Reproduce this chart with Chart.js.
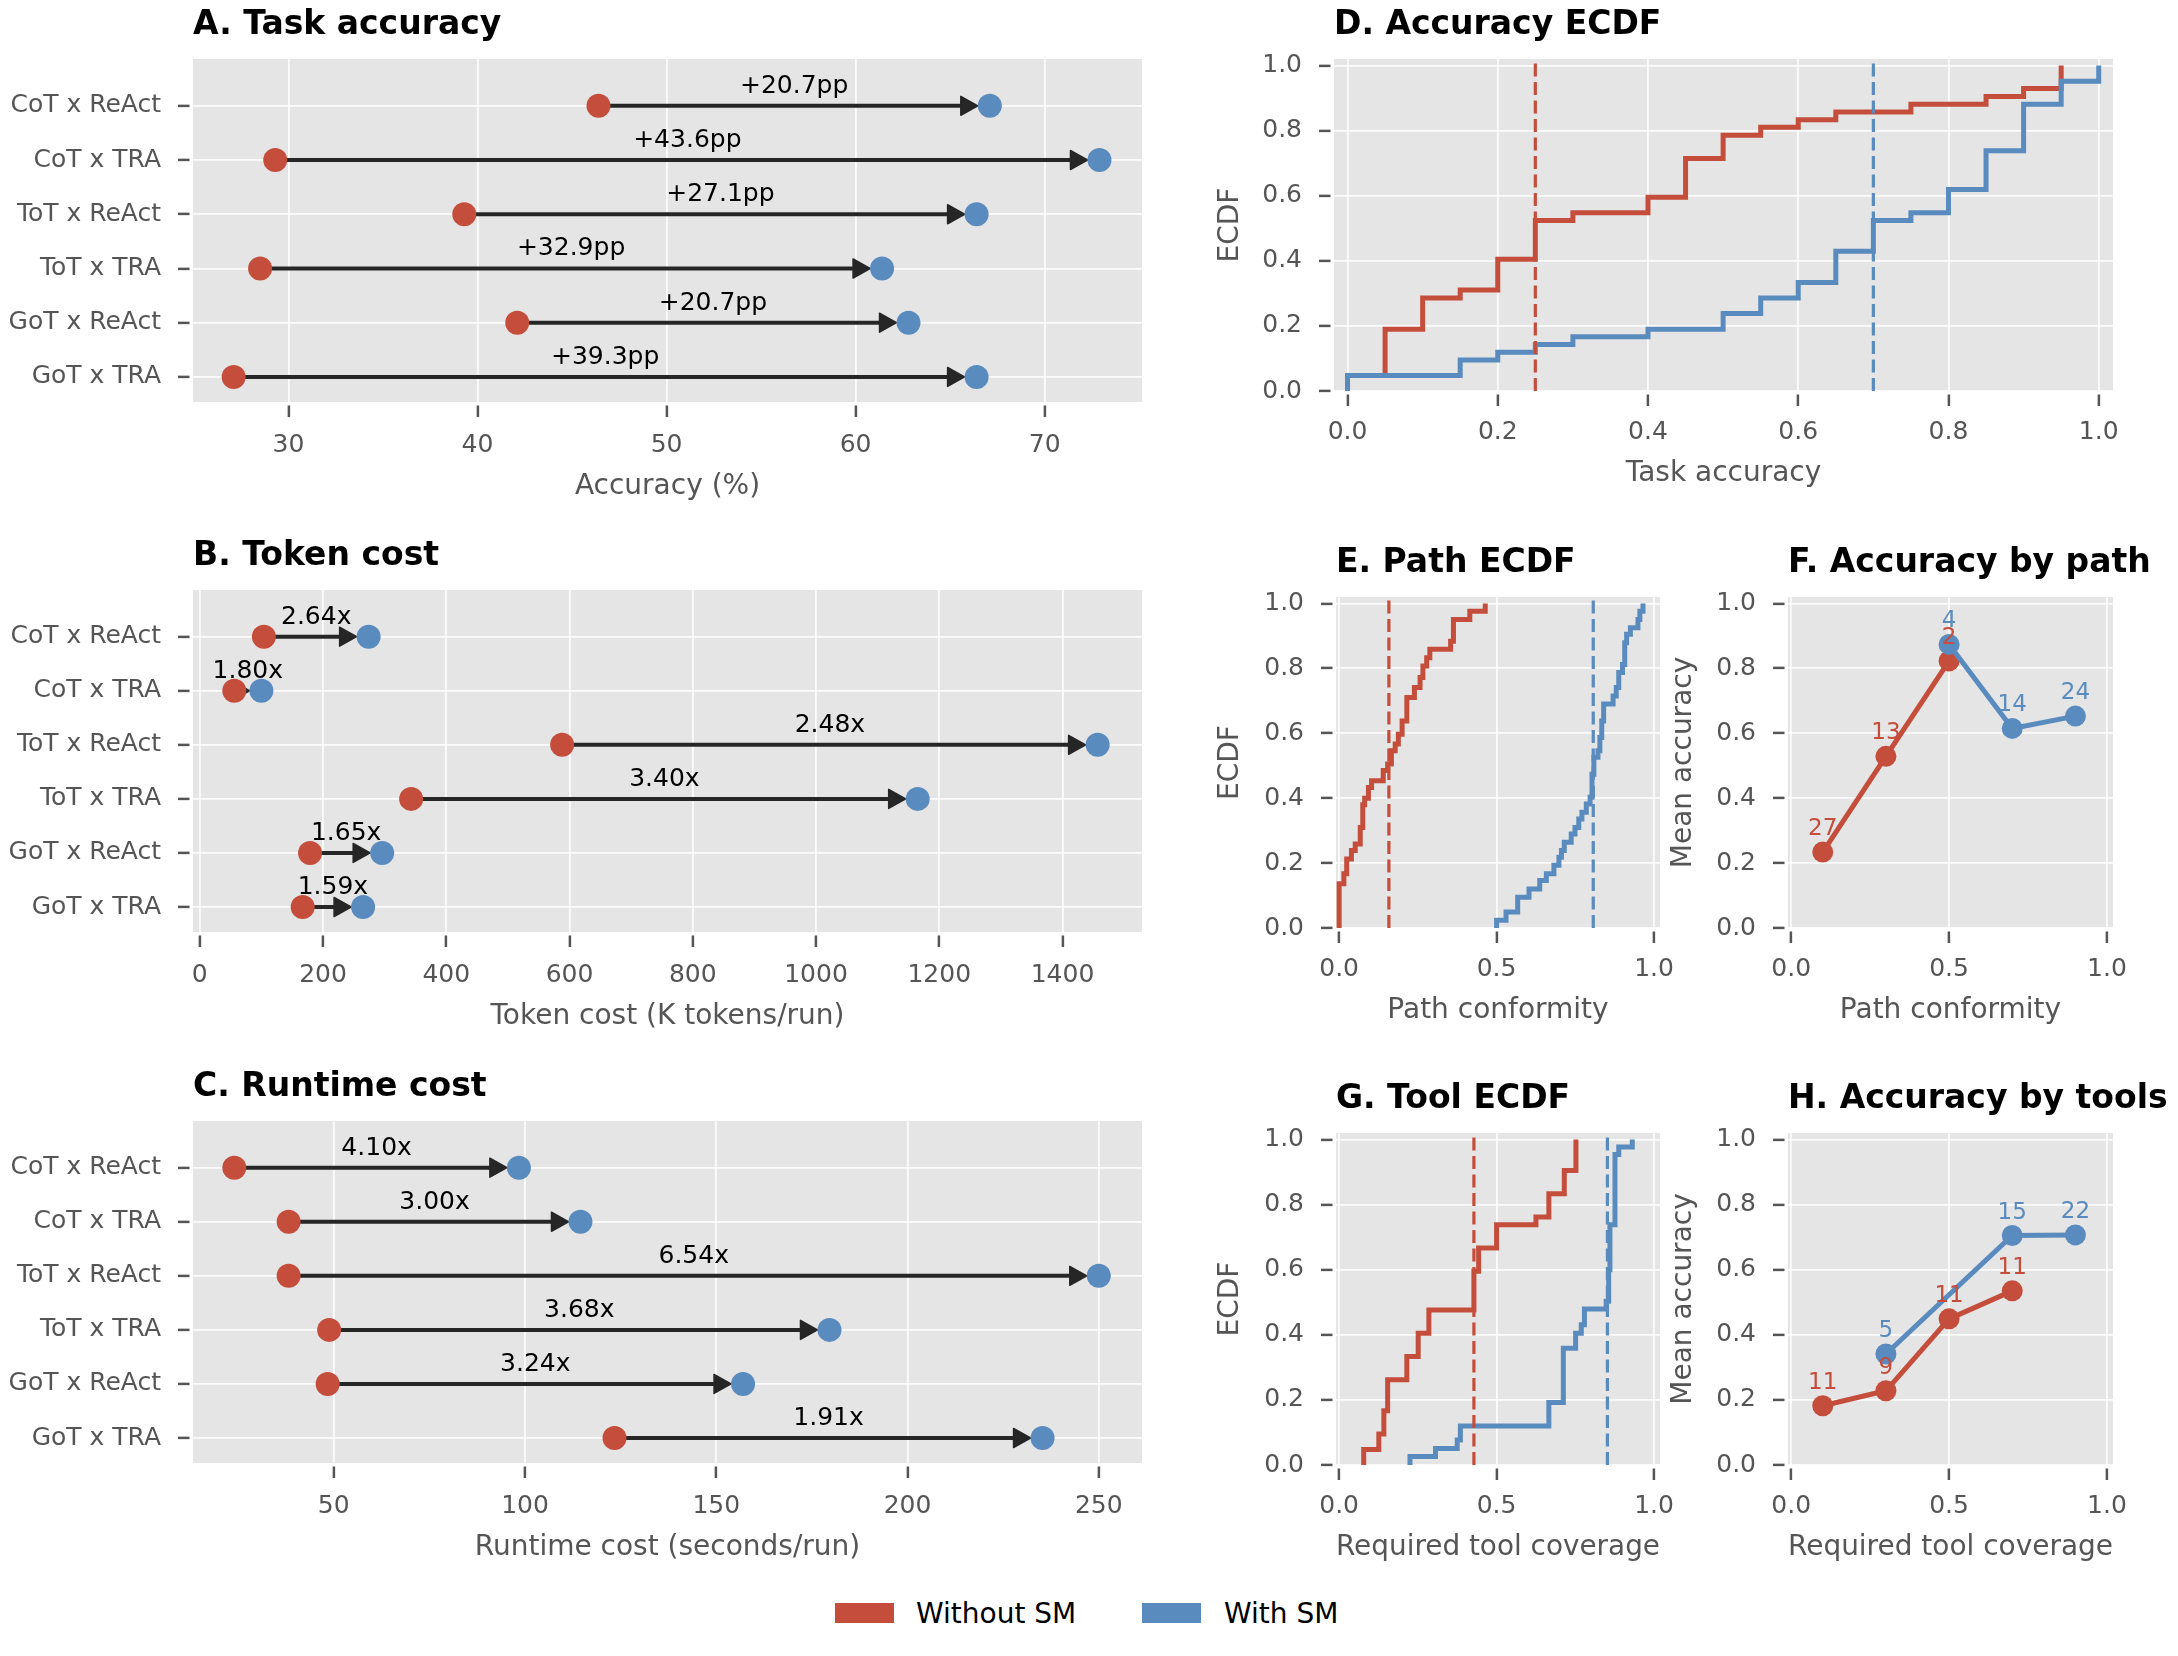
<!DOCTYPE html>
<html>
<head>
<meta charset="utf-8">
<script src="https://cdn.jsdelivr.net/npm/chart.js"></script>
<style>
html, body { margin: 0; padding: 0; background: #ffffff; }
#page { position: relative; width: 2178px; height: 1656px; overflow: hidden; background: #ffffff; font-family: "DejaVu Sans", sans-serif; }
#page canvas { position: absolute; }
.sw { position: absolute; width: 59px; height: 20px; }
.lt { position: absolute; font-size: 28px; line-height: normal; color: #000; white-space: nowrap; }
</style>
</head>
<body>
<div id="page">
  <div class="sw" id="swRed" style="left:835px; top:1603px;"></div>
  <div class="lt" style="left:916px; top:1597px;">Without SM</div>
  <div class="sw" id="swBlue" style="left:1142px; top:1603px;"></div>
  <div class="lt" style="left:1224px; top:1597px;">With SM</div>
</div>
<script>
// ---------------- DATA ----------------
const categories = ['CoT x ReAct', 'CoT x TRA', 'ToT x ReAct', 'ToT x TRA', 'GoT x ReAct', 'GoT x TRA'];
const seriesNames = ['Without SM', 'With SM'];

// A. Task accuracy (%)
const accWithout = [46.4, 29.3, 39.3, 28.5, 42.1, 27.1];
const accWith    = [67.1, 72.9, 66.4, 61.4, 62.8, 66.4];
const accLabels  = ['+20.7pp', '+43.6pp', '+27.1pp', '+32.9pp', '+20.7pp', '+39.3pp'];
const accTicks   = [30, 40, 50, 60, 70];

// B. Token cost (K tokens/run)
const tokWithout = [104, 56, 588, 343, 179, 167];
const tokWith    = [274, 100, 1457, 1165, 296, 265];
const tokLabels  = ['2.64x', '1.80x', '2.48x', '3.40x', '1.65x', '1.59x'];
const tokTicks   = [0, 200, 400, 600, 800, 1000, 1200, 1400];

// C. Runtime cost (seconds/run)
const rtWithout = [24.0, 38.2, 38.2, 48.8, 48.4, 123.4];
const rtWith    = [98.4, 114.5, 250.0, 179.6, 157.0, 235.3];
const rtLabels  = ['4.10x', '3.00x', '6.54x', '3.68x', '3.24x', '1.91x'];
const rtTicks   = [50, 100, 150, 200, 250];

// D. Accuracy ECDF (step positions and ECDF levels)
const dRedX  = [0, 0.05, 0.1, 0.15, 0.2, 0.25, 0.3, 0.4, 0.45, 0.5, 0.55, 0.6, 0.65, 0.75, 0.85, 0.9, 0.95];
const dRedY  = [0.048, 0.190, 0.286, 0.310, 0.405, 0.524, 0.548, 0.595, 0.714, 0.786, 0.810, 0.833, 0.857, 0.881, 0.905, 0.929, 1.0];
const dBlueX = [0, 0.15, 0.2, 0.25, 0.3, 0.4, 0.5, 0.55, 0.6, 0.65, 0.7, 0.75, 0.8, 0.85, 0.9, 0.95, 1.0];
const dBlueY = [0.048, 0.095, 0.119, 0.143, 0.167, 0.190, 0.238, 0.286, 0.333, 0.429, 0.524, 0.548, 0.619, 0.738, 0.881, 0.952, 1.0];
const dMedians = [0.25, 0.70];

// E. Path ECDF
const eRedX  = [0.0, 0.015, 0.024, 0.039, 0.051, 0.067, 0.075, 0.081, 0.093, 0.103, 0.140, 0.154, 0.166, 0.178, 0.188, 0.200, 0.215, 0.239, 0.257, 0.266, 0.278, 0.288, 0.354, 0.363, 0.415, 0.464];
const eRedY  = [0.136, 0.167, 0.213, 0.239, 0.259, 0.310, 0.380, 0.400, 0.433, 0.454, 0.485, 0.505, 0.546, 0.567, 0.597, 0.638, 0.710, 0.741, 0.772, 0.807, 0.833, 0.859, 0.884, 0.951, 0.976, 1.0];
const eBlueX = [0.500, 0.530, 0.567, 0.603, 0.637, 0.658, 0.682, 0.698, 0.706, 0.715, 0.737, 0.749, 0.761, 0.771, 0.785, 0.797, 0.803, 0.809, 0.822, 0.828, 0.834, 0.840, 0.870, 0.880, 0.888, 0.900, 0.907, 0.913, 0.925, 0.949, 0.955, 0.965];
const eBlueY = [0.024, 0.049, 0.095, 0.120, 0.146, 0.167, 0.193, 0.218, 0.239, 0.264, 0.290, 0.310, 0.336, 0.357, 0.382, 0.403, 0.474, 0.526, 0.546, 0.587, 0.638, 0.690, 0.715, 0.741, 0.787, 0.812, 0.879, 0.905, 0.925, 0.951, 0.976, 1.0];
const eMedians = [0.158, 0.807];

// G. Tool ECDF
const gRedX  = [0.078, 0.126, 0.142, 0.154, 0.215, 0.251, 0.285, 0.428, 0.443, 0.500, 0.625, 0.666, 0.715, 0.752];
const gRedY  = [0.048, 0.095, 0.167, 0.262, 0.333, 0.405, 0.476, 0.595, 0.667, 0.738, 0.762, 0.833, 0.905, 1.0];
const gBlueX = [0.225, 0.306, 0.375, 0.385, 0.666, 0.712, 0.751, 0.769, 0.779, 0.848, 0.856, 0.860, 0.876, 0.888, 0.931];
const gBlueY = [0.026, 0.051, 0.077, 0.120, 0.192, 0.359, 0.405, 0.431, 0.479, 0.503, 0.600, 0.738, 0.954, 0.977, 1.0];
const gMedians = [0.428, 0.852];

// F. Accuracy by path
const bins = [0.1, 0.3, 0.5, 0.7, 0.9];
const pathAccWithout = [0.234, 0.529, 0.823, null, null];
const pathAccWith    = [null, null, 0.874, 0.615, 0.653];
const pathNWithout   = [27, 13, 2, null, null];
const pathNWith      = [null, null, 4, 14, 24];

// H. Accuracy by tools
const toolAccWithout = [0.182, 0.228, 0.449, 0.535, null];
const toolAccWith    = [null, 0.341, null, 0.705, 0.707];
const toolNWithout   = [11, 9, 11, 11, null];
const toolNWith      = [null, 5, null, 15, 22];

const unitTicks = [0, 0.2, 0.4, 0.6, 0.8, 1.0];
const halfTicks = [0, 0.5, 1.0];

// ---------------- STYLE ----------------
const RED = '#C44E3B', BLUE = '#5A8BBF', INK = '#262626', TICK = '#555555';
const BG = '#E5E5E5', GRID = 'rgba(255,255,255,0.85)';
const FAM = '"DejaVu Sans", sans-serif';
document.getElementById('swRed').style.background = RED;
document.getElementById('swBlue').style.background = BLUE;

Chart.defaults.font.family = FAM;
Chart.defaults.animation = false;
Chart.defaults.responsive = false;
Chart.defaults.events = [];
Chart.defaults.plugins.legend.display = false;
Chart.defaults.plugins.tooltip.enabled = false;

const page = document.getElementById('page');

function panelPlugin(title) {
  return {
    id: 'panel',
    beforeDraw(chart) {
      const {ctx, chartArea: a} = chart;
      ctx.save();
      ctx.fillStyle = BG;
      ctx.fillRect(a.left, a.top, a.right - a.left, a.bottom - a.top);
      ctx.restore();
    },
    afterDraw(chart) {
      const {ctx, chartArea: a} = chart;
      ctx.save();
      ctx.font = 'bold 33px ' + FAM;
      ctx.fillStyle = '#000';
      ctx.textAlign = 'left';
      ctx.textBaseline = 'alphabetic';
      ctx.fillText(title, a.left, a.top - 25);
      ctx.restore();
    }
  };
}

function arrowPlugin(from, to, labels) {
  return {
    id: 'arrows',
    beforeDatasetsDraw(chart) {
      const {ctx} = chart, xs = chart.scales.x, ys = chart.scales.y;
      ctx.save();
      ctx.strokeStyle = INK; ctx.fillStyle = INK; ctx.lineJoin = 'round';
      from.forEach((v, i) => {
        const x0 = xs.getPixelForValue(v), x1 = xs.getPixelForValue(to[i]), py = ys.getPixelForValue(i);
        const tip = x1 - 12, base = tip - 17;
        if (base > x0) {
          ctx.lineWidth = 4;
          ctx.beginPath(); ctx.moveTo(x0, py); ctx.lineTo(base + 1, py); ctx.stroke();
        }
        ctx.lineWidth = 1.5;
        ctx.beginPath(); ctx.moveTo(tip, py); ctx.lineTo(base, py - 9.5); ctx.lineTo(base, py + 9.5); ctx.closePath();
        ctx.fill(); ctx.stroke();
      });
      ctx.restore();
    },
    afterDatasetsDraw(chart) {
      const {ctx} = chart, xs = chart.scales.x, ys = chart.scales.y;
      ctx.save();
      ctx.font = '25px ' + FAM; ctx.fillStyle = '#000';
      ctx.textAlign = 'center'; ctx.textBaseline = 'alphabetic';
      from.forEach((v, i) => {
        const xm = (xs.getPixelForValue(v) + xs.getPixelForValue(to[i])) / 2;
        ctx.fillText(labels[i], xm, ys.getPixelForValue(i) - 13);
      });
      ctx.restore();
    }
  };
}

const countPlugin = {
  id: 'counts',
  afterDatasetsDraw(chart) {
    const {ctx} = chart, xs = chart.scales.x, ys = chart.scales.y;
    ctx.save();
    ctx.font = '23px ' + FAM; ctx.textAlign = 'center'; ctx.textBaseline = 'alphabetic';
    chart.data.datasets.forEach(ds => {
      if (!ds.counts) return;
      ctx.fillStyle = ds.borderColor;
      ds.data.forEach((p, j) => ctx.fillText(String(ds.counts[j]), xs.getPixelForValue(p.x), ys.getPixelForValue(p.y) - 17));
    });
    ctx.restore();
  }
};

function xAxis(c) {
  return {
    type: 'linear', position: 'bottom', min: c.min, max: c.max,
    afterBuildTicks: s => { s.ticks = c.ticks.map(v => ({value: v})); },
    afterFit: s => { s.height = c.hx; },
    grid: {color: GRID, lineWidth: 1.8, drawTicks: true, tickLength: 15, tickColor: TICK, tickWidth: 2.5, tickBorderDash: [0, 3.5, 11.5, 50]},
    border: {display: false},
    ticks: {color: TICK, font: {size: 25, lineHeight: 1.2}, padding: c.pad, autoSkip: false, maxRotation: 0, callback: c.fmt},
    title: {display: true, text: c.title, color: TICK, font: {size: 28, lineHeight: 1.2}, padding: 0}
  };
}
function yAxis(c) {
  return {
    type: 'linear', position: 'left', min: c.min, max: c.max, reverse: !!c.reverse,
    afterBuildTicks: s => { s.ticks = c.ticks.map(v => ({value: v})); },
    afterFit: s => { s.width = c.wy; },
    grid: {color: GRID, lineWidth: 1.8, drawTicks: true, tickLength: 15, tickColor: TICK, tickWidth: 2.5, tickBorderDash: [11.5, 50]},
    border: {display: false},
    ticks: {color: TICK, font: {size: 25, lineHeight: 1.2}, padding: 17, autoSkip: false, callback: c.fmt},
    title: c.title ? {display: true, text: c.title, color: TICK, font: {size: 28, lineHeight: 1.2}, padding: 0} : {display: false}
  };
}

function makeChart(box, cfg) {
  const padT = 60, padR = 65;
  const c = document.createElement('canvas');
  const w = box.wy + (box.R - box.L) + padR;
  const h = padT + (box.B - box.T) + box.hx;
  c.width = w; c.height = h;
  c.style.left = (box.L - box.wy) + 'px';
  c.style.top = (box.T - padT) + 'px';
  c.style.width = w + 'px'; c.style.height = h + 'px';
  page.appendChild(c);
  return new Chart(c, {
    type: 'scatter',
    data: {datasets: cfg.datasets},
    options: {
      layout: {padding: {left: 0, top: padT, right: padR, bottom: 0}},
      scales: {
        x: xAxis(Object.assign({hx: box.hx}, cfg.x)),
        y: yAxis(Object.assign({wy: box.wy}, cfg.y))
      }
    },
    plugins: [panelPlugin(cfg.title)].concat(cfg.plugins || [])
  });
}

const fmt1 = v => Number(v).toFixed(1);
const fmtInt = v => String(v);
const fmtCat = v => categories[v];
const rowIdx = categories.map((_, i) => i);

function dotSet(values, color, order) {
  return {
    data: values.map((v, i) => ({x: v, y: i})),
    backgroundColor: color, borderWidth: 0,
    pointRadius: 12, pointHoverRadius: 12, order: order, clip: false
  };
}
function dumbbell(box, title, wo, wi, labels, xc) {
  makeChart(box, {
    title,
    datasets: [dotSet(wo, RED, 2), dotSet(wi, BLUE, 1)],
    x: xc,
    y: {min: -0.863, max: 5.462, reverse: true, ticks: rowIdx, fmt: fmtCat},
    plugins: [arrowPlugin(wo, wi, labels)]
  });
}

function stepData(xs, ys) {
  const d = [{x: xs[0], y: 0}];
  xs.forEach((x, i) => d.push({x: x, y: ys[i]}));
  return d;
}
const ECDF_MIN = 0, ECDF_MAX = 1.02;
function ecdfSet(xs, ys, color, order) {
  return {data: stepData(xs, ys), showLine: true, stepped: 'before', borderColor: color, backgroundColor: color,
          borderWidth: 5, pointRadius: 0, fill: false, order: order};
}
function medianSet(m, color) {
  return {data: [{x: m, y: ECDF_MIN}, {x: m, y: ECDF_MAX}], showLine: true, borderColor: color, backgroundColor: color,
          borderWidth: 3.2, borderDash: [13, 5.5], pointRadius: 0, fill: false, order: 0};
}
function ecdfChart(box, title, xTitle, rx, ry, bx, by, med, xmin, xticks) {
  makeChart(box, {
    title,
    datasets: [ecdfSet(rx, ry, RED, 2), ecdfSet(bx, by, BLUE, 1), medianSet(med[0], RED), medianSet(med[1], BLUE)],
    x: {min: xmin, max: 1.019, ticks: xticks, fmt: fmt1, pad: 11, title: xTitle},
    y: {min: ECDF_MIN, max: ECDF_MAX, ticks: unitTicks, fmt: fmt1, title: 'ECDF'}
  });
}
function lineSet(vals, counts, color, order) {
  const data = [], cs = [];
  vals.forEach((v, i) => { if (v !== null) { data.push({x: bins[i], y: v}); cs.push(counts[i]); } });
  return {data, counts: cs, showLine: true, borderColor: color, backgroundColor: color, borderWidth: 5,
          pointRadius: 10.5, pointHoverRadius: 10.5, pointBorderWidth: 0, pointBackgroundColor: color, fill: false, order: order, clip: false};
}
function accChart(box, title, xTitle, wo, wi, nwo, nwi) {
  makeChart(box, {
    title,
    datasets: [lineSet(wo, nwo, RED, 2), lineSet(wi, nwi, BLUE, 1)],
    x: {min: -0.01, max: 1.019, ticks: halfTicks, fmt: fmt1, pad: 11, title: xTitle},
    y: {min: ECDF_MIN, max: ECDF_MAX, ticks: unitTicks, fmt: fmt1, title: 'Mean accuracy'},
    plugins: [countPlugin]
  });
}

// ---------------- PANELS ----------------
dumbbell({L: 193, T: 59, R: 1142, B: 402, wy: 193, hx: 102}, 'A. Task accuracy', accWithout, accWith, accLabels,
  {min: 24.95, max: 75.15, ticks: accTicks, fmt: fmtInt, pad: 13, title: 'Accuracy (%)'});
dumbbell({L: 193, T: 590, R: 1142, B: 932, wy: 193, hx: 102}, 'B. Token cost', tokWithout, tokWith, tokLabels,
  {min: -11, max: 1529, ticks: tokTicks, fmt: fmtInt, pad: 13, title: 'Token cost (K tokens/run)'});
dumbbell({L: 193, T: 1121, R: 1142, B: 1463, wy: 193, hx: 102}, 'C. Runtime cost', rtWithout, rtWith, rtLabels,
  {min: 13.2, max: 261.3, ticks: rtTicks, fmt: fmtInt, pad: 13, title: 'Runtime cost (seconds/run)'});

ecdfChart({L: 1334, T: 59, R: 2113, B: 391, wy: 120, hx: 100}, 'D. Accuracy ECDF', 'Task accuracy',
  dRedX, dRedY, dBlueX, dBlueY, dMedians, -0.018, unitTicks);
ecdfChart({L: 1336, T: 597, R: 1660, B: 928, wy: 122, hx: 100}, 'E. Path ECDF', 'Path conformity',
  eRedX, eRedY, eBlueX, eBlueY, eMedians, -0.01, halfTicks);
ecdfChart({L: 1336, T: 1133, R: 1660, B: 1465, wy: 122, hx: 100}, 'G. Tool ECDF', 'Required tool coverage',
  gRedX, gRedY, gBlueX, gBlueY, gMedians, -0.01, halfTicks);

accChart({L: 1788, T: 597, R: 2113, B: 928, wy: 121, hx: 100}, 'F. Accuracy by path', 'Path conformity',
  pathAccWithout, pathAccWith, pathNWithout, pathNWith);
accChart({L: 1788, T: 1133, R: 2113, B: 1465, wy: 121, hx: 100}, 'H. Accuracy by tools', 'Required tool coverage',
  toolAccWithout, toolAccWith, toolNWithout, toolNWith);
</script>
</body>
</html>
